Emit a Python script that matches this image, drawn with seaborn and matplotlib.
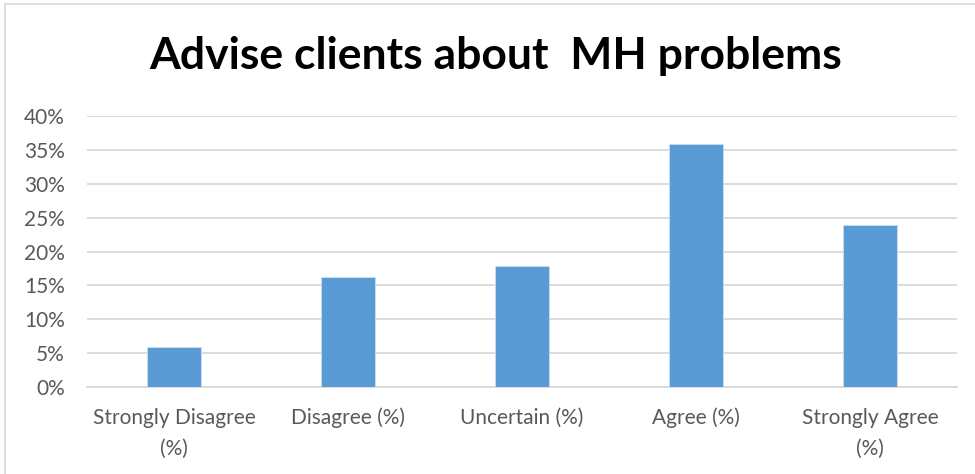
import matplotlib
matplotlib.use("Agg")
import matplotlib.pyplot as plt
import seaborn as sns
import pandas as pd
from matplotlib.ticker import PercentFormatter
from matplotlib.lines import Line2D

categories = ["Strongly Disagree\n(%)", "Disagree (%)", "Uncertain (%)", "Agree (%)", "Strongly Agree\n(%)"]
values = [5.9, 16.2, 17.9, 35.8, 23.9]
yticks = [0, 5, 10, 15, 20, 25, 30, 35, 40]

sns.set_theme(style="white")
plt.rcParams['font.family'] = ['Lato', 'DejaVu Sans']

df = pd.DataFrame({"cat": categories, "val": values})

fig = plt.figure(figsize=(9.75, 4.74), dpi=100)
ax = fig.add_axes([0.0892, 0.1835, 0.8923, 0.5718])
sns.barplot(data=df, x="cat", y="val", color="#5B9BD5", width=0.31, ax=ax,
            saturation=1, zorder=3, edgecolor="#c9def2", linewidth=0.6)

ax.set_ylim(0, 40)
ax.set_xlim(-0.5, 4.5)
ax.set_yticks(yticks)
ax.yaxis.set_major_formatter(PercentFormatter(decimals=0))
ax.yaxis.grid(True, color="#d9d9d9", linewidth=1.3, zorder=0)
ax.set_axisbelow(True)
for s in ["top", "right", "left"]:
    ax.spines[s].set_visible(False)
ax.spines["bottom"].set_color("#d9d9d9")
ax.spines["bottom"].set_linewidth(1.3)
ax.tick_params(axis="both", length=0, labelsize=15, colors="#595959")
ax.tick_params(axis="y", pad=16)
ax.tick_params(axis="x", pad=15)
for lbl in ax.get_xticklabels():
    lbl.set_linespacing(1.7)
ax.set_xlabel("")
ax.set_ylabel("")

fig.text(0.508, 0.881, "Advise clients about  MH problems", ha="center", va="center",
         fontsize=32, fontweight="bold", color="black")

# outer chart border (left and top)
fig.add_artist(Line2D([5/975, 5/975], [0, 1 - 4/474], transform=fig.transFigure, color="#d9d9d9", linewidth=1.2))
fig.add_artist(Line2D([5/975, 1], [1 - 4/474, 1 - 4/474], transform=fig.transFigure, color="#d9d9d9", linewidth=1.2))

fig.savefig("out.png", dpi=100)
